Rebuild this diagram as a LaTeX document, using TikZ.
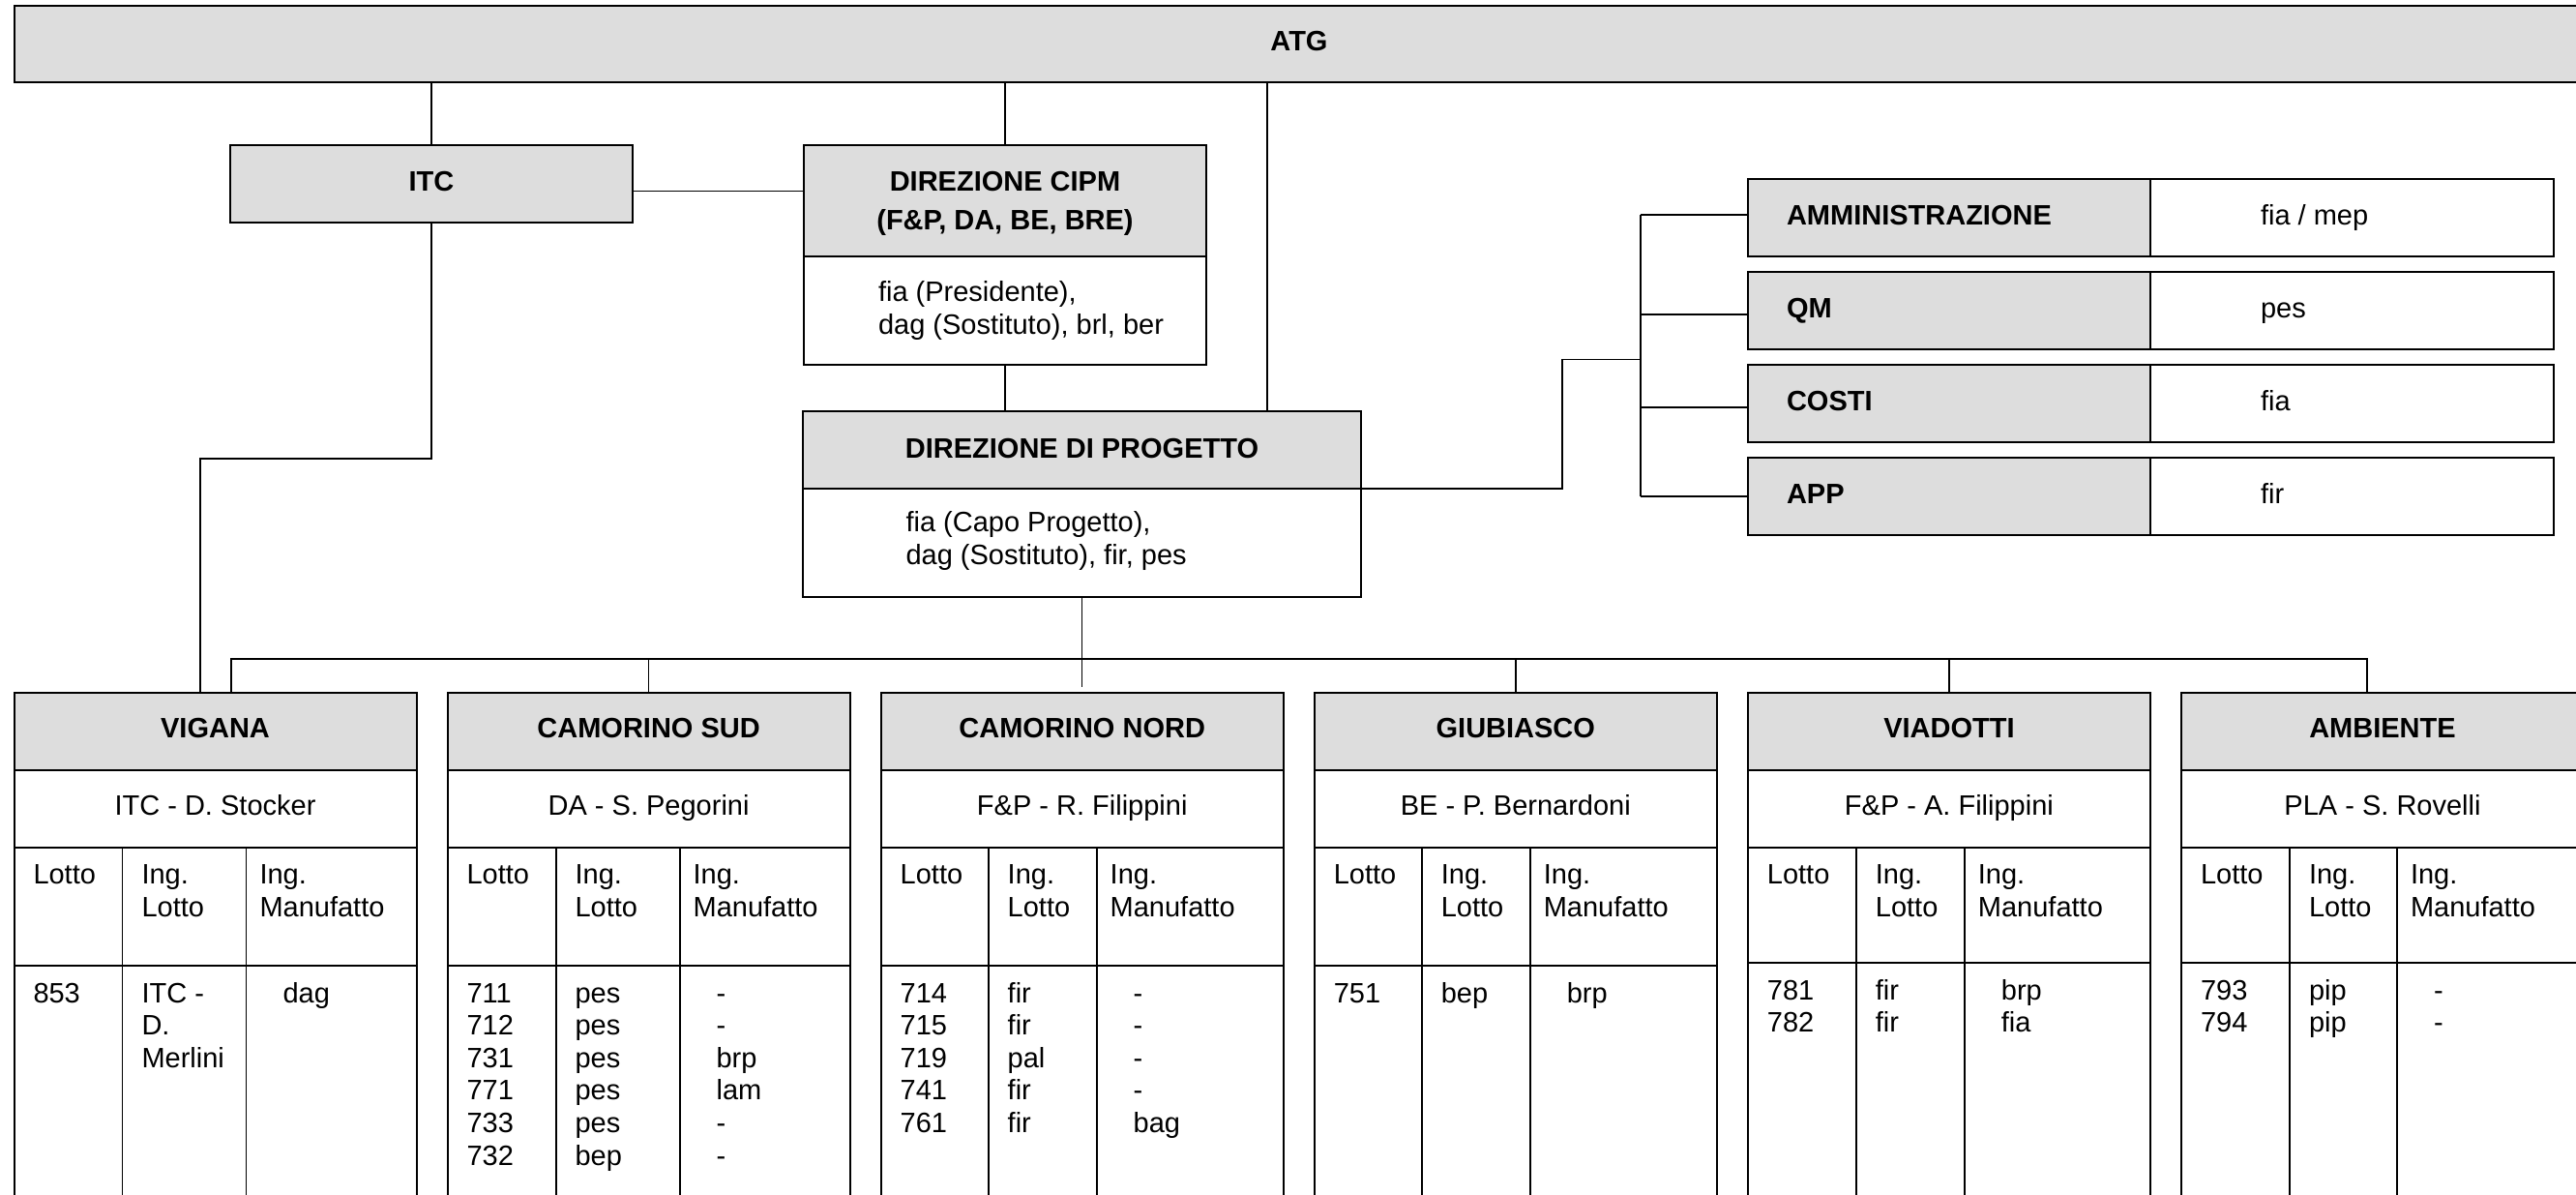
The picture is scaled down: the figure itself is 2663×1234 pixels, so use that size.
\documentclass[tikz,border=0pt]{standalone}
\usepackage{fontspec}
\setmainfont{Liberation Sans}
\definecolor{hdr}{RGB}{221,221,221}
\tikzset{
  wbox/.style={draw=black, line width=2pt, inner sep=0pt, outer sep=0pt, anchor=north west, fill=white},
  hbox/.style={wbox, fill=hdr},
  conn/.style={line width=1.4pt},
  inner/.style={line width=1.8pt},
  txt/.style={inner sep=0pt, outer sep=0pt, font=\fontsize{29}{33.6}\selectfont},
  btxt/.style={inner sep=0pt, outer sep=0pt, font=\fontsize{29}{33.6}\selectfont\bfseries},
}
% #1 id, #2 left, #3 d1, #4 d2, #5 title, #6 leader, #7 column-head bottom
\newcommand{\orgtable}[7]{%
  \node[hbox, minimum width=416, minimum height=80] (th#1) at (#2,716) {};
  \node[wbox, minimum width=416, minimum height=80] (tn#1) at (#2,796) {};
  \node[wbox, minimum width=416, minimum height={#7-876}] (tc#1) at (#2,876) {};
  \node[wbox, minimum width=416, minimum height=300] (td#1) at (#2,#7) {};
  \draw[inner] ({#2+#3},876) -- ({#2+#3},1240);
  \draw[inner] ({#2+#4},876) -- ({#2+#4},1240);
  \node[btxt, anchor=base] (tht#1) at ({#2+208},762.5) {#5};
  \node[txt, anchor=base] (tnt#1) at ({#2+208},842.5) {#6};
  \node[txt, anchor=base west] (ca#1) at ({#2+20},913.5) {Lotto};
  \node[txt, anchor=base west] (cb#1) at ({#2+#3+20},913.5) {Ing.};
  \node[txt, anchor=base west] (cc#1) at ({#2+#3+20},947) {Lotto};
  \node[txt, anchor=base west] (cd#1) at ({#2+#4+14},913.5) {Ing.};
  \node[txt, anchor=base west] (ce#1) at ({#2+#4+14},947) {Manufatto};
}
% #1 id, #2 left, #3 d1, #4 d2, #5 first baseline, #6 #7 #8 column lists
\newcommand{\tabdata}[8]{%
  \foreach \t [count=\i from 0] in {#6} {\node[txt, anchor=base west] (da#1-\i) at ({#2+20},{#5+33.6*\i}) {\t};}
  \foreach \t [count=\i from 0] in {#7} {\node[txt, anchor=base west] (db#1-\i) at ({#2+#3+20},{#5+33.6*\i}) {\t};}
  \foreach \t [count=\i from 0] in {#8} {\node[txt, anchor=base west] (dc#1-\i) at ({#2+#4+38},{#5+33.6*\i}) {\t};}
}
% #1 id, #2 top, #3 stub y, #4 label, #5 value
\newcommand{\sidebox}[5]{%
  \node[hbox, minimum width=416, minimum height=80] (sl#1) at (1807,#2) {};
  \node[wbox, minimum width=417, minimum height=80] (sr#1) at (2223,#2) {};
  \node[btxt, anchor=base west] (slt#1) at (1847,{#2+47.5}) {#4};
  \node[txt, anchor=base west] (srt#1) at (2337,{#2+47.5}) {#5};
  \coordinate (s#1) at (1696,#3);
  \draw[conn] (s#1) -- (s#1 -| sl#1.west);
}
\begin{document}
\begin{tikzpicture}[x=1pt, y=-1pt]
\useasboundingbox (0,0) rectangle (2663,1234);
\clip (0,0) rectangle (2663,1234);
\fill[white] (0,0) rectangle (2663,1234);

% top box
\node[hbox, minimum width=2656, minimum height=79] (atg) at (15,6) {};
\node[btxt, anchor=base] (atgt) at (1343,52.5) {ATG};

% ITC
\node[hbox, minimum width=416, minimum height=80] (itc) at (238,150) {};
\node[btxt, anchor=base] (itct) at (446,197) {ITC};

% Direzione CIPM
\node[hbox, minimum width=416, minimum height=115] (cipmh) at (831,150) {};
\node[wbox, minimum width=416, minimum height=112] (cipmb) at (831,265) {};
\node[btxt, anchor=base] (cipmt1) at (1039,197) {DIREZIONE CIPM};
\node[btxt, anchor=base] (cipmt2) at (1039,237) {(F\&P, DA, BE, BRE)};
\node[txt, anchor=base west] (cipmb1) at (908,311.5) {fia (Presidente),};
\node[txt, anchor=base west] (cipmb2) at (908,345) {dag (Sostituto), brl, ber};

% Direzione di progetto
\node[hbox, minimum width=577, minimum height=80] (progh) at (830,425) {};
\node[wbox, minimum width=577, minimum height=112] (progb) at (830,505) {};
\node[btxt, anchor=base] (progt) at (1118.5,473) {DIREZIONE DI PROGETTO};
\node[txt, anchor=base west] (progb1) at (936.5,549.5) {fia (Capo Progetto),};
\node[txt, anchor=base west] (progb2) at (936.5,583) {dag (Sostituto), fir, pes};

% connectors in the upper part
\draw[conn] (itc.north) -- (itc.north |- atg.south);
\draw[conn] (cipmh.north) -- (cipmh.north |- atg.south);
\coordinate (atgp) at (1310,85);
\draw[conn] (atgp) -- (atgp |- progh.north);
\coordinate (icj) at (654,197.5);
\draw[conn] (icj) -- (icj -| cipmh.west);
\draw[conn] (cipmb.south) -- (cipmb.south |- progh.north);

% side boxes
\sidebox{1}{185}{222}{AMMINISTRAZIONE}{fia / mep}
\sidebox{2}{281}{325}{QM}{pes}
\sidebox{3}{377}{421}{COSTI}{fia}
\sidebox{4}{473}{513}{APP}{fir}
\draw[conn] (s1) -- (s4);
\coordinate (sj) at (1615,371.5);
\coordinate (sv) at (1696,371.5);
\draw[conn] (progh.south east) -| (sj) -- (sv);

% tables
\orgtable{1}{14.5}{112}{240}{VIGANA}{ITC - D. Stocker}{998}
\orgtable{2}{462.6}{112}{240}{CAMORINO SUD}{DA - S. Pegorini}{998}
\orgtable{3}{910.7}{111}{223}{CAMORINO NORD}{F\&P - R. Filippini}{998}
\orgtable{4}{1358.8}{111}{223}{GIUBIASCO}{BE - P. Bernardoni}{998}
\orgtable{5}{1806.9}{112}{224}{VIADOTTI}{F\&P - A. Filippini}{995}
\orgtable{6}{2255}{112}{223}{AMBIENTE}{PLA - S. Rovelli}{995}

\tabdata{1}{14.5}{112}{240}{1036}{853}{ITC -,D.,Merlini}{dag}
\tabdata{2}{462.6}{112}{240}{1036}{711,712,731,771,733,732}{pes,pes,pes,pes,pes,bep}{-,-,brp,lam,-,-}
\tabdata{3}{910.7}{111}{223}{1036}{714,715,719,741,761}{fir,fir,pal,fir,fir}{-,-,-,-,bag}
\tabdata{4}{1358.8}{111}{223}{1036}{751}{bep}{brp}
\tabdata{5}{1806.9}{112}{224}{1033}{781,782}{fir,fir}{brp,fia}
\tabdata{6}{2255}{112}{223}{1033}{793,794}{pip,pip}{-,-}

% connectors to tables
\coordinate (vigin) at (207,716);
\draw[conn] (itc.south) -- ++(0,244) -| (vigin);
\coordinate (busl) at (239,681);
\coordinate (busr) at (2447,681);
\draw[conn] (busl |- th1.north) -- (busl) -- (busr) -- (busr |- th6.north);
\foreach \k in {2,4,5} {\draw[conn] (th\k.north) -- (th\k.north |- busl);}
\coordinate (pdrop) at (1118.5,710);
\draw[conn] (progb.south) -- (pdrop);
\end{tikzpicture}
\end{document}
